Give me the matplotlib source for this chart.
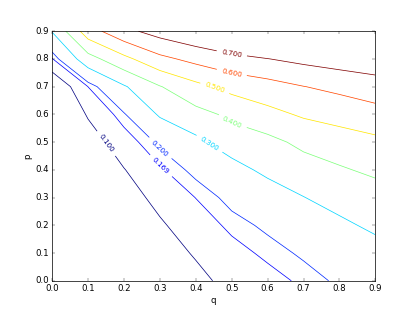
import numpy as np
import matplotlib
matplotlib.use('Agg')
import matplotlib.pyplot as plt

plt.style.use('classic')

q = [0.0, 0.1, 0.2, 0.3, 0.4, 0.5, 0.6, 0.7, 0.8, 0.9]
p = [0.0, 0.1, 0.2, 0.3, 0.4, 0.5, 0.6, 0.7, 0.8, 0.9]
levels = [0.1, 0.169, 0.2, 0.3, 0.4, 0.5, 0.6, 0.7]

# one row per p value, columns follow q
z_p00 = [0.0, 0.0, 0.01, 0.04, 0.08, 0.1226, 0.148, 0.1798, 0.2087, 0.235]
z_p01 = [0.0, 0.01, 0.025, 0.066, 0.107, 0.148, 0.181, 0.2079, 0.245, 0.263]
z_p02 = [0.0, 0.02, 0.045, 0.091, 0.136, 0.182, 0.2102, 0.25, 0.2806, 0.319]
z_p03 = [0.0, 0.03, 0.069, 0.12, 0.17, 0.2167, 0.24, 0.2977, 0.336, 0.354]
z_p04 = [0.0, 0.045, 0.097, 0.1615, 0.216, 0.26, 0.326, 0.356, 0.389, 0.4196]
z_p05 = [0.0, 0.063, 0.14, 0.2115, 0.276, 0.354, 0.372, 0.4238, 0.4545, 0.48]
z_p06 = [0.0, 0.1075, 0.194, 0.311, 0.369, 0.419, 0.471, 0.5124, 0.5357, 0.557]
z_p07 = [0.027, 0.1695, 0.29, 0.395, 0.473, 0.5315, 0.562, 0.598, 0.625, 0.6645]
z_p08 = [0.165, 0.361, 0.473, 0.575, 0.629, 0.671, 0.698, 0.7255, 0.748, 0.749]
z_p09 = [0.305, 0.555, 0.673, 0.74, 0.787, 0.832, 0.86, 0.885, 0.9, 0.91]

Z = np.array([z_p00, z_p01, z_p02, z_p03, z_p04,
              z_p05, z_p06, z_p07, z_p08, z_p09])
Q, P = np.meshgrid(q, p)

label_spots = [(0.156, 0.50), (0.30, 0.41), (0.30, 0.477), (0.443, 0.504),
               (0.50, 0.565), (0.454, 0.698), (0.50, 0.749), (0.50, 0.817)]

fig = plt.figure(figsize=(8.02, 6), dpi=52)
ax = fig.add_subplot(111)
cs = ax.contour(Q, P, Z, levels, cmap='jet')
ax.clabel(cs, fmt='%1.3f', fontsize=10, manual=label_spots)
ax.set_xlabel('q')
ax.set_ylabel('p')
ax.set_xlim(0, 0.9)
ax.set_ylim(0, 0.9)

fig.savefig('out.png', dpi=52, facecolor='white')
